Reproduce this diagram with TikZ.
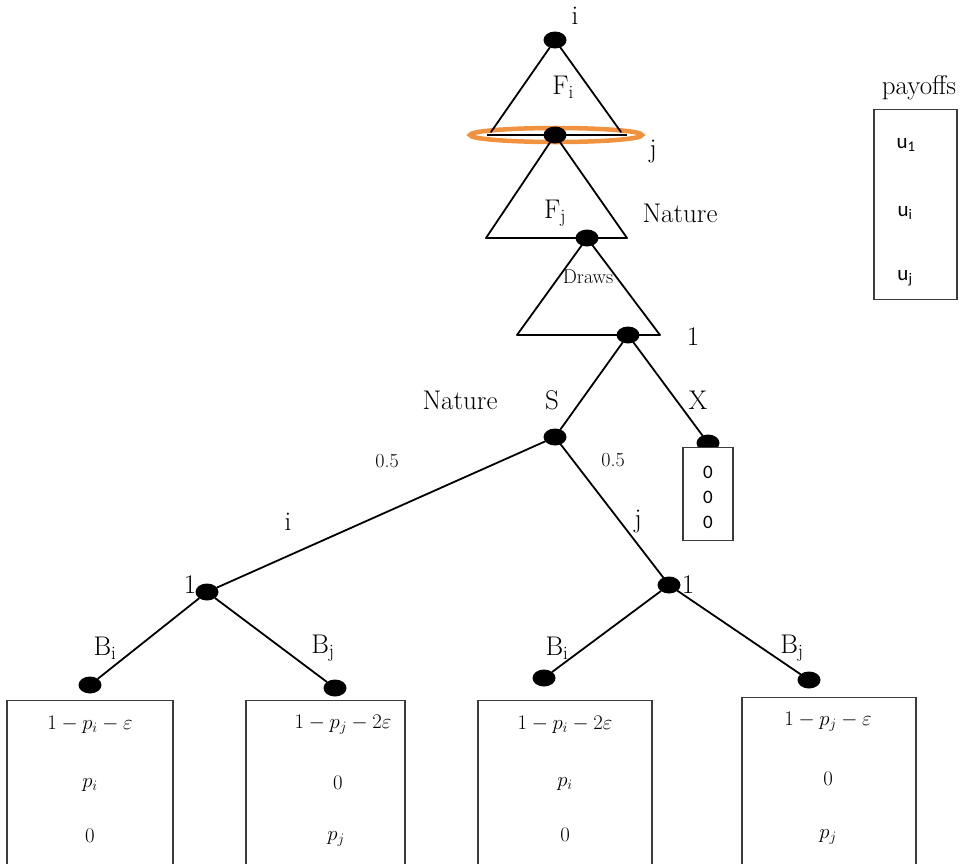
\documentclass[tikz,border=0pt]{standalone}
\usepackage{fontspec}
\newfontfamily\carlito{Carlito}
\usetikzlibrary{shapes.geometric}
\definecolor{ringorange}{RGB}{241,146,62}
\definecolor{boxgray}{RGB}{60,60,60}
\begin{document}
\begin{tikzpicture}[x=1pt,y=-1pt,
  dot/.style={ellipse,fill=black,minimum width=23pt,minimum height=17pt,inner sep=0pt},
  edge/.style={line width=1.8pt,line cap=round},
  lab/.style={font=\fontsize{27}{29}\selectfont,inner sep=0pt},
  small/.style={font=\fontsize{20}{22}\selectfont,inner sep=0pt},
  mathlab/.style={font=\fontsize{21}{23}\selectfont,inner sep=0pt},
  sanslab/.style={font=\carlito\fontsize{19}{21}\selectfont,inner sep=0pt},
  paybox/.style={draw=boxgray,line width=1.2pt,fill=white,inner sep=0pt,anchor=north}]
\useasboundingbox (0,0) rectangle (963,863);

% orange information ring
\draw[ringorange,line width=4.5pt] (556,135) ellipse [x radius=86, y radius=7];

% decision nodes
\node[dot] (ni) at (555,40) {};
\node[dot] (nj) at (555,135) {};
\node[dot] (nn) at (587,238) {};
\node[dot] (n1) at (628,335) {};
\node[dot] (ns) at (555,437) {};
\node[dot] (nx) at (708,443) {};
\node[dot] (l1) at (207,592) {};
\node[dot] (r1) at (669,585) {};
\node[dot] (a1) at (90,685) {};
\node[dot] (a2) at (335,688) {};
\node[dot] (a3) at (544,678) {};
\node[dot] (a4) at (809,680) {};

% triangle corners
\coordinate (fiL) at (491,132);
\coordinate (fiR) at (621,132);
\coordinate (fiBL) at (487,135);
\coordinate (fiBR) at (627,135);
\coordinate (fjL) at (486,238);
\coordinate (fjR) at (627,238);
\coordinate (dL) at (517,335);
\coordinate (dR) at (660,335);

% triangles
\draw[edge] (ni) -- (fiL);
\draw[edge] (ni) -- (fiR);
\draw[line width=1.4pt] (fiBL) -- (fiBR);
\draw[edge] (nj) -- (fjL);
\draw[edge] (nj) -- (fjR);
\draw[edge] (fjL) -- (fjR);
\draw[edge] (nn) -- (dL);
\draw[edge] (nn) -- (dR);
\draw[edge] (dL) -- (dR);

% tree edges
\draw[edge] (n1) -- (ns);
\draw[edge] (n1) -- (nx);
\draw[edge] (ns) -- (l1);
\draw[edge] (ns) -- (r1);
\draw[edge] (l1) -- (a1);
\draw[edge] (l1) -- (a2);
\draw[edge] (r1) -- (a3);
\draw[edge] (r1) -- (a4);

% payoff boxes
\node[paybox,minimum width=50pt,minimum height=93pt] (bx) at (708,447) {};
\node[sanslab] (bx1) at (708,472) {0};
\node[sanslab] (bx2) at (708,497) {0};
\node[sanslab] (bx3) at (708,522) {0};

\node[paybox,minimum width=166pt,minimum height=170pt] (b1) at (90,700) {};
\node[paybox,minimum width=159pt,minimum height=170pt] (b2) at (325.5,700) {};
\node[paybox,minimum width=174pt,minimum height=170pt] (b3) at (565,700) {};
\node[paybox,minimum width=174pt,minimum height=172pt] (b4) at (829,697) {};

\node[mathlab] (t11) at (90,725) {$1-p_i-\varepsilon$};
\node[mathlab] (t12) at (90,785) {$p_i$};
\node[mathlab] (t13) at (90,836) {$0$};
\node[mathlab] (t21) at (343,725) {$1-p_j-2\varepsilon$};
\node[mathlab] (t22) at (338,783) {$0$};
\node[mathlab] (t23) at (336,839) {$p_j$};
\node[mathlab] (t31) at (565,725) {$1-p_i-2\varepsilon$};
\node[mathlab] (t32) at (565,784) {$p_i$};
\node[mathlab] (t33) at (565,835) {$0$};
\node[mathlab] (t41) at (828,722) {$1-p_j-\varepsilon$};
\node[mathlab] (t42) at (828,779) {$0$};
\node[mathlab] (t43) at (828,837) {$p_j$};

% legend
\node[lab] (pay) at (919,88) {payoffs};
\node[paybox,minimum width=83pt,minimum height=190pt] (pb) at (915.5,109) {};
\node[sanslab,font=\carlito\fontsize{21}{23}\selectfont] (u1) at (906,145) {u\textsubscript{1}};
\node[sanslab,font=\carlito\fontsize{21}{23}\selectfont] (u2) at (905,213) {u\textsubscript{i}};
\node[sanslab,font=\carlito\fontsize{21}{23}\selectfont] (u3) at (905,278) {u\textsubscript{j}};

% labels
\node[lab] (Li) at (575,16) {i};
\node[lab] (LFi) at (563,87) {F$_{\mathrm{i}}$};
\node[lab] (Lj) at (653,152) {j};
\node[lab] (LFj) at (555,213) {F$_{\mathrm{j}}$};
\node[lab] (LNat1) at (680,213) {Nature};
\node[small] (LDr) at (588,277) {Draws};
\node[lab] (L1) at (693,337) {1};
\node[lab] (LNat2) at (460,400) {Nature};
\node[lab] (LS) at (552,400) {S};
\node[lab] (LX) at (698,400) {X};
\node[small] (Lp1) at (387,461) {0.5};
\node[small] (Lp2) at (613,460) {0.5};
\node[lab] (Lii) at (288,522) {i};
\node[lab] (Ljj) at (638,522) {j};
\node[lab] (L1l) at (190,585) {1};
\node[lab] (L1r) at (688,585) {1};
\node[lab] (LB1) at (105,648) {B$_{\mathrm{i}}$};
\node[lab] (LB2) at (323,648) {B$_{\mathrm{j}}$};
\node[lab] (LB3) at (557,648) {B$_{\mathrm{i}}$};
\node[lab] (LB4) at (792,648) {B$_{\mathrm{j}}$};
\end{tikzpicture}
\end{document}
